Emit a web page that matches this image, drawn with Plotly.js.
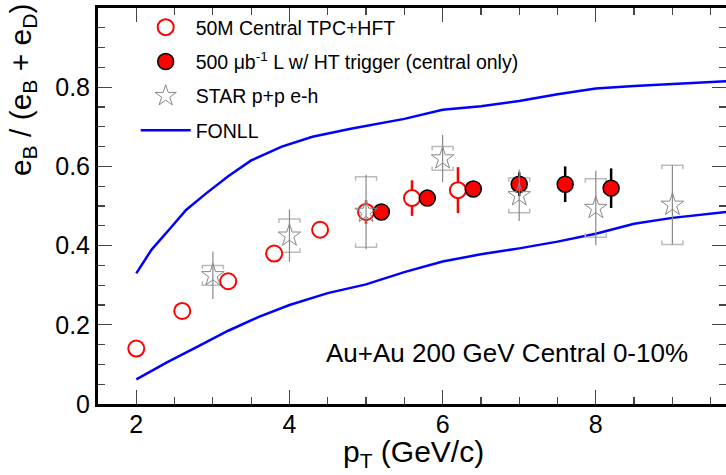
<!DOCTYPE html>
<html>
<head>
<meta charset="utf-8">
<script src="https://cdn.plot.ly/plotly-3.0.1.min.js"></script>
<style>html,body{margin:0;padding:0;background:#fff}#chart{width:726px;height:475px}</style>
</head>
<body>
<div id="chart"></div>
<script>
// 50M Central TPC+HFT (open red circles)
const hftX = [2.0, 2.6, 3.2, 3.8, 4.4, 5.0, 5.6, 6.2];
const hftY = [0.14, 0.235, 0.31, 0.38, 0.44, 0.485, 0.52, 0.54];
const hftErr = [0.005, 0.006, 0.008, 0.01, 0.012, 0.03, 0.045, 0.058];

// 500 ub^-1 L w/ HT trigger (filled red circles)
const htX = [5.2, 5.8, 6.4, 7.0, 7.6, 8.2];
const htY = [0.485, 0.52, 0.543, 0.555, 0.555, 0.545];
const htErr = [0.01, 0.015, 0.02, 0.03, 0.045, 0.05];

// STAR p+p e-h (stars)
const ppX = [3.0, 4.0, 5.0, 6.0, 7.0, 8.0, 9.0];
const ppY = [0.325, 0.425, 0.485, 0.62, 0.527, 0.495, 0.503];
const ppStat = [0.06, 0.066, 0.094, 0.06, 0.065, 0.094, 0.1];
const ppSys = [0.025, 0.042, 0.089, 0.03, 0.044, 0.074, 0.1];

// FONLL band edges
const fonllUpX = [2.0, 2.2, 2.45, 2.65, 2.9, 3.2, 3.5, 3.9, 4.3, 4.8, 5.5, 6.0, 6.5, 7.0, 7.5, 8.0, 8.5, 9.0, 9.7];
const fonllUpY = [0.33, 0.39, 0.445, 0.49, 0.53, 0.575, 0.615, 0.65, 0.675, 0.695, 0.72, 0.743, 0.752, 0.765, 0.782, 0.797, 0.803, 0.808, 0.815];
const fonllLoX = [2.0, 2.4, 2.8, 3.2, 3.6, 4.0, 4.5, 5.0, 5.5, 6.0, 6.5, 7.0, 7.5, 8.0, 8.5, 9.0, 9.7];
const fonllLoY = [0.062, 0.105, 0.145, 0.185, 0.22, 0.25, 0.28, 0.302, 0.333, 0.36, 0.378, 0.393, 0.41, 0.43, 0.455, 0.47, 0.485];

const FONT = 'Liberation Sans, Arial, Helvetica, sans-serif';

// systematic brackets built from the data arrays
const bw = 0.137, bc = 0.01;
const sysX = [], sysY = [];
for (let i = 0; i < ppX.length; i++) {
  const x = ppX[i], hi = ppY[i] + ppSys[i], lo = ppY[i] - ppSys[i];
  sysX.push(x - bw, x - bw, x + bw, x + bw, null);
  sysY.push(hi - bc, hi, hi, hi - bc, null);
  sysX.push(x - bw, x - bw, x + bw, x + bw, null);
  sysY.push(lo + bc, lo, lo, lo + bc, null);
}

const traces = [
  {x: fonllUpX, y: fonllUpY, mode: 'lines', name: 'FONLL', legendrank: 4, legendgroup: 'g4',
   line: {color: '#0000ff', width: 2.5}},
  {x: fonllLoX, y: fonllLoY, mode: 'lines', showlegend: false, legendgroup: 'g4',
   line: {color: '#0000ff', width: 2.5}},
  {x: sysX, y: sysY, mode: 'lines', showlegend: false, hoverinfo: 'skip',
   line: {color: '#bbbbbb', width: 1.5}},
  {x: hftX, y: hftY, mode: 'markers', name: '50M Central TPC+HFT', legendrank: 1, legendgroup: 'g1',
   error_y: {type: 'data', array: hftErr, color: '#ff0000', thickness: 2.5, width: 0},
   marker: {symbol: 'circle', size: 16, color: '#ffffff', line: {color: '#ff0000', width: 2}}},
  {x: htX, y: htY, mode: 'markers', name: '500 \u03bcb<sup>-1</sup> L w/ HT trigger (central only)', legendrank: 2, legendgroup: 'g2',
   error_y: {type: 'data', array: htErr, color: '#000000', thickness: 2.5, width: 0},
   marker: {symbol: 'circle', size: 16, color: '#ff0000', line: {color: '#000000', width: 1.5}}},
  {x: ppX, y: ppY, mode: 'markers', name: 'STAR p+p e-h', legendrank: 3, legendgroup: 'g3',
   error_y: {type: 'data', array: ppStat, color: '#888888', thickness: 1.2, width: 0},
   marker: {symbol: 'star-open', size: 17, color: '#888888', line: {color: '#888888', width: 1}}}
];

const layout = {
  width: 726, height: 475,
  margin: {l: 98, r: 0, t: 8, b: 71},
  paper_bgcolor: '#fff', plot_bgcolor: '#fff',
  font: {family: FONT, size: 20, color: '#000'},
  showlegend: true,
  legend: {x: 0.06, y: 1.0, xanchor: 'left', yanchor: 'top', bgcolor: 'rgba(0,0,0,0)',
           font: {family: FONT, size: 19.5}, tracegroupgap: 6, itemwidth: 50},
  xaxis: {range: [1.5, 9.7], showgrid: false, zeroline: false,
          showline: true, linecolor: '#000', linewidth: 3, mirror: 'ticks',
          ticks: 'inside', ticklen: 14, tickwidth: 1.2, tickcolor: '#444',
          tickvals: [2, 4, 6, 8], ticktext: ['2', '4', '6', '8'],
          ticklabelstandoff: -4,
          minor: {ticks: 'inside', ticklen: 7, dtick: 0.5, tick0: 2, tickcolor: '#444', tickwidth: 1.2},
          tickfont: {family: FONT, size: 25}},
  yaxis: {range: [0, 1], showgrid: false, zeroline: false,
          showline: true, linecolor: '#000', linewidth: 3, mirror: 'ticks',
          ticks: 'inside', ticklen: 14, tickwidth: 1.2, tickcolor: '#444',
          dtick: 0.2, tick0: 0,
          minor: {ticks: 'inside', ticklen: 7, dtick: 0.05, tickcolor: '#444', tickwidth: 1.2},
          tickfont: {family: FONT, size: 25}},
  annotations: [
    {xref: 'paper', yref: 'paper', x: 0.943, y: 0.13, xanchor: 'right', yanchor: 'middle',
     text: 'Au+Au 200 GeV Central 0-10%', showarrow: false, font: {family: FONT, size: 26}},
    {xref: 'paper', yref: 'paper', x: -0.121, y: 1.015, xanchor: 'center', yanchor: 'top',
     textangle: -90, text: 'e<sub>B</sub> / (e<sub>B</sub> + e<sub>D</sub>)', showarrow: false,
     font: {family: FONT, size: 30}},
    {xref: 'paper', yref: 'paper', x: 0.503, y: -0.125, xanchor: 'center', yanchor: 'middle',
     text: 'p<sub>T</sub> (GeV/c)', showarrow: false, font: {family: FONT, size: 30}}
  ]
};

Plotly.newPlot('chart', traces, layout, {staticPlot: true, displayModeBar: false});
</script>
</body>
</html>
